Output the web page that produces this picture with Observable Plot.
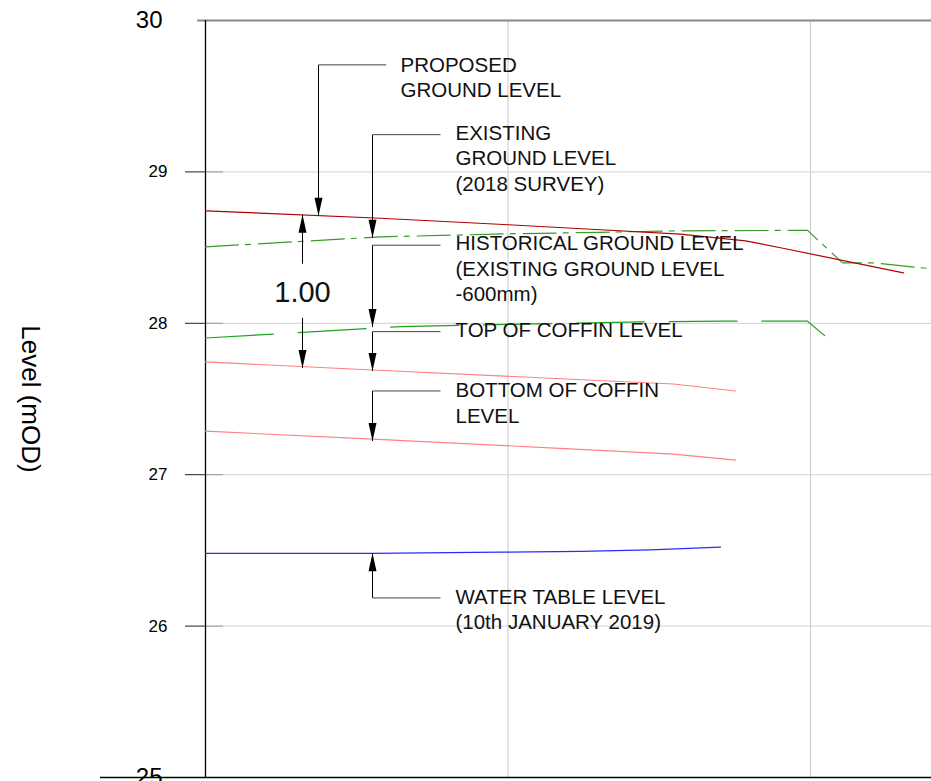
<!DOCTYPE html>
<html><head><meta charset="utf-8">
<script src="https://cdn.jsdelivr.net/npm/d3@7"></script>
<script src="https://cdn.jsdelivr.net/npm/@observablehq/plot@0.6"></script>
<style>html,body{margin:0;padding:0;background:#fff;overflow:hidden;} svg{display:block;}</style>
</head><body><div id="chart"></div>
<script>
// ---- axis ticks ----
const xGrid = [10, 20];
const yTicks = [26, 27, 28, 29];
const yEndTicks = [30, 25];

// ---- series (chainage m, level mOD) ----
const proposedX = [0, 5.785, 10.017, 13.058, 15.702, 17.851, 19.008, 23.074];
const proposedY = [28.743, 28.694, 28.651, 28.618, 28.589, 28.545, 28.499, 28.333];

const existingX = [0, 5.785, 10.017, 13.058, 15.702, 19.901, 21.058, 22.083, 24.0];
const existingY = [28.505, 28.571, 28.591, 28.601, 28.611, 28.614, 28.399, 28.399, 28.360];

const historicalX = [0, 6.446, 10.017, 14.380, 17.025, 19.901, 20.595];
const historicalY = [27.903, 27.978, 27.993, 28.009, 28.014, 28.014, 27.897];

const coffinTopX = [0, 5.521, 15.471, 17.521];
const coffinTopY = [27.745, 27.692, 27.599, 27.553];

const coffinBottomX = [0, 5.521, 11.702, 15.471, 17.521];
const coffinBottomY = [27.288, 27.235, 27.174, 27.136, 27.096];

const waterX = [0, 5.521, 9.752, 12.397, 14.711, 17.025];
const waterY = [26.481, 26.481, 26.488, 26.493, 26.503, 26.521];

// ---- annotation leaders ----
const leaderX = [3.736, 5.521, 5.521, 5.521, 5.521, 5.521];
const leaderElbowY = [29.707, 29.246, 28.516, 27.945, 27.553, 26.186];
const leaderTipY = [28.710, 28.565, 27.975, 27.685, 27.222, 26.481];
const leaderEndX = [5.974, 7.769, 7.769, 7.769, 7.769, 7.769];
const labelX = [6.446, 8.264, 8.264, 8.264, 8.264, 8.264];
const labelY = [29.702, 29.253, 28.525, 27.950, 27.553, 26.190];
const labelText = [
  "PROPOSED\nGROUND LEVEL",
  "EXISTING\nGROUND LEVEL\n(2018 SURVEY)",
  "HISTORICAL GROUND LEVEL\n(EXISTING GROUND LEVEL\n-600mm)",
  "TOP OF COFFIN LEVEL",
  "BOTTOM OF COFFIN\nLEVEL",
  "WATER TABLE LEVEL\n(10th JANUARY 2019)"
];

// ---- dimension ----
const dimX = 3.207;
const dimTipTop = 28.717, dimGapTop = 28.393, dimGapBottom = 28.036, dimTipBottom = 27.705;
const dimLabel = "1.00", dimLabelY = 28.201;

const yLabel = "Level (mOD)";

// ---- build tables ----
const pts = (xs, ys) => xs.map((x, i) => ({x, y: ys[i]}));
const leaders = leaderX.map((x, i) => ({x, elbow: leaderElbowY[i], tip: leaderTipY[i], endX: leaderEndX[i], lx: labelX[i], ly: labelY[i], text: labelText[i]}));
const dimSegs = [{y1: dimTipTop, y2: dimGapTop}, {y1: dimGapBottom, y2: dimTipBottom}];
const arrowsDown = leaders.filter(d => d.tip < d.elbow).map(d => ({x: d.x, y: d.tip})).concat([{x: dimX, y: dimTipBottom}]);
const arrowsUp = leaders.filter(d => d.tip > d.elbow).map(d => ({x: d.x, y: d.tip})).concat([{x: dimX, y: dimTipTop}]);

const headDown = {draw(ctx) { ctx.moveTo(0, 0); ctx.lineTo(-4, -18); ctx.lineTo(4, -18); ctx.closePath(); }};
const headUp = {draw(ctx) { ctx.moveTo(0, 0); ctx.lineTo(-4, 18); ctx.lineTo(4, 18); ctx.closePath(); }};

const FONT = "'Liberation Sans', Arial, sans-serif";
const TXT = 20.5;

const chart = Plot.plot({
  width: 931,
  height: 781,
  marginLeft: 205,
  marginRight: 0,
  marginTop: 20,
  marginBottom: 4,
  style: {fontFamily: FONT, background: "#fff", overflow: "hidden", color: "#000"},
  x: {domain: [0, 24], axis: null},
  y: {domain: [25, 30], axis: null},
  marks: [
    Plot.ruleX(xGrid, {stroke: "#c8c8c8", strokeWidth: 1}),
    Plot.ruleY(yTicks, {stroke: "#d2d2d2", strokeWidth: 1}),
    Plot.ruleY(yTicks, {x1: 0, x2: 0.6, stroke: "#999", strokeWidth: 1}),
    Plot.axisY(yTicks, {tickSize: 20, tickPadding: 18, fontSize: 17, stroke: "#222", tickFormat: d3.format("d"), label: null}),
    Plot.text(yEndTicks, {y: d => d, frameAnchor: "left", dx: -43, textAnchor: "end", fontSize: 24, fill: "#000"}),
    Plot.ruleY([30], {x1: -0.26, x2: 24, stroke: "#888", strokeWidth: 2}),
    Plot.ruleY([25], {x1: -3.47, x2: 24, stroke: "#000", strokeWidth: 1.5}),
    Plot.ruleX([0], {y1: 25, y2: 30, stroke: "#000", strokeWidth: 1.3}),
    Plot.text([yLabel], {frameAnchor: "left", dx: -175, rotate: 90, textAnchor: "middle", fontSize: 26, fill: "#000"}),

    Plot.line(pts(coffinBottomX, coffinBottomY), {x: "x", y: "y", stroke: "#ff8080", strokeWidth: 1.1}),
    Plot.line(pts(coffinTopX, coffinTopY), {x: "x", y: "y", stroke: "#ff8080", strokeWidth: 1.1}),
    Plot.line(pts(waterX, waterY), {x: "x", y: "y", stroke: "#2a2aff", strokeWidth: 1.2}),
    Plot.line(pts(historicalX, historicalY), {x: "x", y: "y", stroke: "#1fa21f", strokeWidth: 1.2, strokeDasharray: "68,24.8"}),
    Plot.line(pts(existingX, existingY), {x: "x", y: "y", stroke: "#3a9a2a", strokeWidth: 1.2, strokeDasharray: "33,7,5,8"}),
    Plot.line(pts(proposedX, proposedY), {x: "x", y: "y", stroke: "#b00000", strokeWidth: 1.2}),

    Plot.link(leaders, {x1: "x", x2: "x", y1: "elbow", y2: "tip", stroke: "#000", strokeWidth: 1}),
    Plot.link(leaders, {x1: "x", x2: "endX", y1: "elbow", y2: "elbow", stroke: "#444", strokeWidth: 1}),
    Plot.link(dimSegs, {x1: () => dimX, x2: () => dimX, y1: "y1", y2: "y2", stroke: "#000", strokeWidth: 1}),
    Plot.dot(arrowsDown, {x: "x", y: "y", symbol: headDown, fill: "#000", stroke: "none", r: 5}),
    Plot.dot(arrowsUp, {x: "x", y: "y", symbol: headUp, fill: "#000", stroke: "none", r: 5}),
    Plot.text(leaders, {x: "lx", y: "ly", text: "text", textAnchor: "start", lineAnchor: "top", dy: -11.8, lineHeight: 1.244, fontSize: TXT, fill: "#111"}),
    Plot.text([dimLabel], {x: () => dimX, y: () => dimLabelY, text: d => d, fontSize: 29, fill: "#111"})
  ]
});
document.getElementById("chart").appendChild(chart);
</script></body></html>
